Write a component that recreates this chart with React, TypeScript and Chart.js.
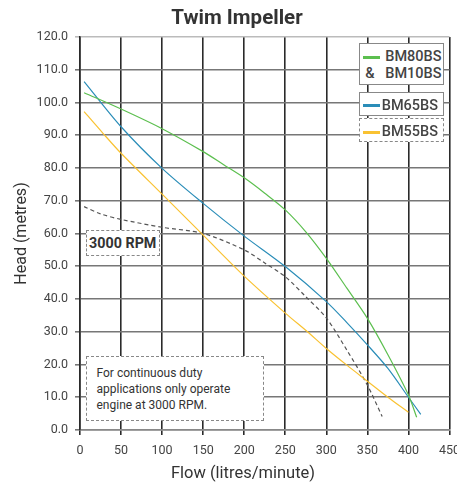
import React, { useEffect, useRef } from "react";
import { Chart, registerables } from "chart.js";

Chart.register(...registerables);

const TITLE = "Twim Impeller";
const X_TITLE = "Flow (litres/minute)";
const Y_TITLE = "Head (metres)";

const bm80Flow = [5, 50, 100, 150, 175, 200, 225, 250, 275, 300, 325, 350, 375, 400, 410];
const bm80Head = [103, 98, 92, 85, 81, 77, 72.3, 67.2, 60.5, 52.4, 43.3, 34.1, 23, 10.7, 3.9];

const bm65Flow = [5, 50, 100, 150, 200, 250, 300, 325, 350, 375, 400, 415];
const bm65Head = [106.4, 92.6, 79.9, 69.2, 59.2, 49.9, 39.2, 32.8, 26, 18.8, 10, 4.8];

const bm55Flow = [5, 28, 50, 100, 150, 200, 250, 277, 300, 325, 350, 375, 400];
const bm55Head = [97.2, 90.6, 84.5, 72, 59.5, 47, 35.7, 30, 24.9, 19.8, 14.9, 10, 5.4];

const rpmFlow = [5, 25, 50, 100, 150, 200, 225, 250, 275, 300, 325, 350, 368];
const rpmHead = [68.2, 66, 64.3, 61.9, 60, 55, 51, 46.8, 40.7, 34.2, 24.4, 13.7, 4.1];

const LEGEND_80 = ["BM80BS", "&   BM10BS"];
const LEGEND_65 = "BM65BS";
const LEGEND_55 = "BM55BS";
const RPM_LABEL = "3000 RPM";
const NOTE_LINES = ["For continuous duty", "applications only operate", "engine at 3000 RPM."];

const GREEN = "#5cbf4f";
const BLUE = "#2a8db8";
const YELLOW = "#f9c232";
const GREY_DASH = "#555555";

const pts = (xs: number[], ys: number[]) => xs.map((x, i) => ({ x, y: ys[i] }));

export default function App() {
  const ref = useRef<HTMLCanvasElement | null>(null);

  useEffect(() => {
    if (!ref.current) return;
    Chart.defaults.font.family = "Roboto";
    const mk = (label: string, xs: number[], ys: number[], color: string, dash?: number[]) => ({
      label,
      data: pts(xs, ys),
      borderColor: color,
      backgroundColor: color,
      borderWidth: 1.2,
      pointRadius: 0,
      tension: 0.3,
      borderDash: dash || [],
      fill: false,
    });
    const chart = new Chart(ref.current, {
      type: "line",
      data: {
        datasets: [
          mk("BM80BS & BM10BS", bm80Flow, bm80Head, GREEN),
          mk("BM65BS", bm65Flow, bm65Head, BLUE),
          mk("BM55BS", bm55Flow, bm55Head, YELLOW),
          mk("3000 RPM", rpmFlow, rpmHead, GREY_DASH, [4, 3]),
        ],
      },
      options: {
        animation: false,
        responsive: true,
        maintainAspectRatio: false,
        layout: { padding: { left: 0, right: 7.5, top: 37, bottom: 0 } },
        plugins: {
          legend: { display: false },
          tooltip: { enabled: false },
          title: { display: false },
        },
        scales: {
          x: {
            type: "linear",
            min: 0,
            max: 450,
            ticks: {
              stepSize: 50,
              color: "#444444",
              font: { size: 12.5 },
              padding: 8,
              maxRotation: 0,
            },
            grid: {
              color: "#2a2a2a",
              lineWidth: 1.6,
              tickLength: 5,
            },
            border: { color: "#888888", width: 1.6 },
            title: { display: false },
            afterFit: (s: any) => {
              s.height = 56;
              s.paddingRight = 0;
              s.paddingLeft = 0;
            },
          },
          y: {
            type: "linear",
            min: 0,
            max: 120,
            ticks: {
              stepSize: 10,
              color: "#444444",
              font: { size: 12.5 },
              padding: 7,
              callback: (v: any) => Number(v).toFixed(1),
            },
            grid: {
              color: (c: any) => (c.tick && c.tick.value === 120 ? "#bbbbbb" : "#777777"),
              lineWidth: 1.6,
              tickLength: 5,
            },
            border: { color: "#2a2a2a", width: 1.6 },
            title: {
              display: true,
              text: Y_TITLE,
              color: "#333333",
              font: { size: 16 },
              padding: { top: 12, bottom: 0 },
            },
            afterFit: (s: any) => {
              s.width = 80;
              s.paddingTop = 0;
            },
          },
        },
      },
    } as any);
    return () => chart.destroy();
  }, []);

  const box = (extra: React.CSSProperties): React.CSSProperties => ({
    position: "absolute",
    background: "#ffffff",
    boxSizing: "border-box",
    ...extra,
  });
  const legendText: React.CSSProperties = {
    position: "absolute",
    fontFamily: "Roboto",
    fontWeight: 500,
    fontSize: 14.5,
    color: "#444444",
    lineHeight: "16px",
    whiteSpace: "pre",
  };
  const swatch = (color: string, top: number): React.CSSProperties => ({
    position: "absolute",
    left: 2.5,
    top,
    width: 17.5,
    height: 3,
    background: color,
  });

  return (
    <div style={{ position: "fixed", left: 0, top: 0, width: 457, height: 486, background: "#fff" }}>
      <canvas ref={ref} />
      <div
        style={{
          position: "absolute",
          left: 137,
          width: 200,
          top: 5,
          textAlign: "center",
          fontFamily: "Roboto",
          fontWeight: 700,
          fontSize: 20.5,
          lineHeight: "24px",
          color: "#333333",
        }}
      >
        {TITLE}
      </div>
      <div
        style={{
          position: "absolute",
          left: 143,
          width: 200,
          top: 463,
          textAlign: "center",
          fontFamily: "Roboto",
          fontSize: 16.5,
          lineHeight: "20px",
          color: "#333333",
        }}
      >
        {X_TITLE}
      </div>
      {/* Legend boxes */}
      <div style={box({ left: 359, top: 43, width: 85, height: 41.5, border: "1.5px solid #888888" })}>
        <div style={swatch(GREEN, 11.5)} />
        <div style={{ ...legendText, right: 1.5, top: 5 }}>{LEGEND_80[0]}</div>
        <div style={{ ...legendText, right: 1.5, top: 21.5 }}>{LEGEND_80[1]}</div>
      </div>
      <div style={box({ left: 359, top: 91.5, width: 85, height: 24, border: "1.5px solid #888888" })}>
        <div style={swatch(BLUE, 11.5)} />
        <div style={{ ...legendText, right: 5, top: 5 }}>{LEGEND_65}</div>
      </div>
      <div style={box({ left: 359, top: 118, width: 85, height: 23.5, border: "1.5px dashed #888888" })}>
        <div style={swatch(YELLOW, 11.5)} />
        <div style={{ ...legendText, right: 5, top: 4.5 }}>{LEGEND_55}</div>
      </div>
      {/* 3000 RPM label */}
      <div
        style={box({
          left: 86,
          top: 230,
          width: 73.5,
          height: 25.5,
          border: "1.5px dashed #888888",
          fontFamily: "Roboto",
          fontWeight: 700,
          fontSize: 14.3,
          color: "#333333",
          display: "flex",
          alignItems: "center",
          justifyContent: "center",
        })}
      >
        {RPM_LABEL}
      </div>
      {/* Note box */}
      <div
        style={box({
          left: 86,
          top: 355.5,
          width: 178,
          height: 65.5,
          border: "1.5px dashed #888888",
          fontFamily: "Roboto",
          fontSize: 12,
          color: "#333333",
          paddingLeft: 9.5,
          paddingTop: 8,
          lineHeight: "16.4px",
        })}
      >
        {NOTE_LINES.map((l, i) => (
          <div key={i}>{l}</div>
        ))}
      </div>
    </div>
  );
}
